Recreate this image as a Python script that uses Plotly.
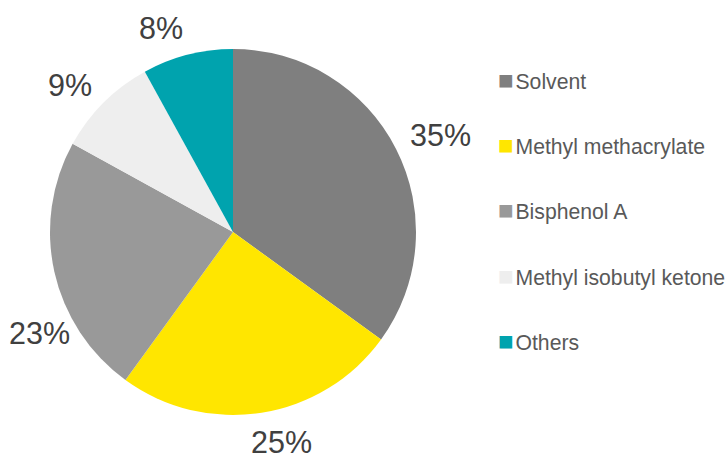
import math
import plotly.graph_objects as go

categories = ["Solvent", "Methyl methacrylate", "Bisphenol A", "Methyl isobutyl ketone", "Others"]
values = [35, 25, 23, 9, 8]
colors = ["#7f7f7f", "#ffe600", "#999999", "#eeeeee", "#00a3ae"]

W, H = 727, 455
cx, cy, r = 233, 232, 183
label_gap = 12
label_angle_nudge = [2, -4, -15, -3, -5]   # degrees, style only
label_radial_nudge = [0, 0, -10, -2, 0]    # pixels, style only
label_font = 30.5

fig = go.Figure()
fig.add_trace(go.Pie(
    labels=categories, values=values, sort=False, direction="clockwise", rotation=0,
    marker=dict(colors=colors, line=dict(width=0)),
    textinfo="none", showlegend=False, hoverinfo="label+percent",
    domain=dict(x=[(cx - r) / W, (cx + r) / W], y=[(H - cy - r) / H, (H - cy + r) / H]),
))

# outside percentage labels positioned from the data (mid-angle of each slice)
total = sum(values)
cum = 0
for v, nudge, rn in zip(values, label_angle_nudge, label_radial_nudge):
    mid = (cum + v / 2) / total * 360 + nudge
    cum += v
    th = math.radians(mid)
    txt = f"{round(v / total * 100)}%"
    hw = 0.5 * label_font * (0.556 * (len(txt) - 1) + 0.889)
    hh = 0.5 * label_font * 0.95
    R = r + label_gap + rn + hw * abs(math.sin(th)) + hh * abs(math.cos(th))
    px = cx + R * math.sin(th)
    py = cy - R * math.cos(th)
    fig.add_annotation(x=px / W, y=1 - py / H, xref="paper", yref="paper",
                       text=txt, showarrow=False, xanchor="center", yanchor="middle",
                       font=dict(size=label_font, color="#404040", family="Liberation Sans, Arial"))

for i, (c, col) in enumerate(zip(categories, colors)):
    fig.add_trace(go.Scatter(
        x=[None], y=[None], mode="markers", legendgroup=f"g{i}",
        name=f'<span style="color:{col};font-size:26px">■</span>\u200a{c}',
        marker=dict(symbol="square", size=1, color="rgba(0,0,0,0)"),
    ))

fig.update_layout(
    width=W, height=H, margin=dict(l=0, r=0, t=0, b=0, autoexpand=False),
    paper_bgcolor="white", plot_bgcolor="white",
    xaxis=dict(visible=False), yaxis=dict(visible=False),
    legend=dict(x=458 / W, y=1 - 60 / H, xanchor="left", yanchor="top",
                font=dict(size=21.2, color="#595959", family="Liberation Sans, Arial"),
                tracegroupgap=34.8, itemwidth=30, bgcolor="rgba(0,0,0,0)"),
)
fig.write_html("out.html")
